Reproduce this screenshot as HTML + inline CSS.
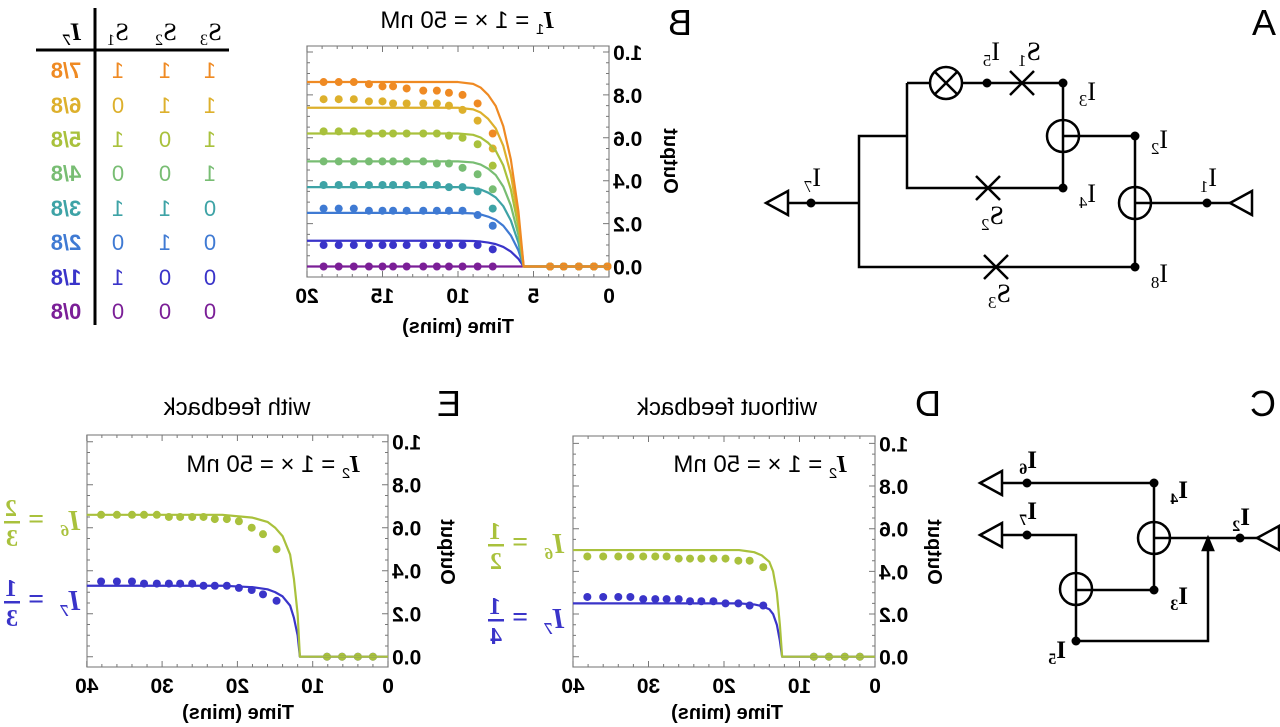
<!DOCTYPE html>
<html><head><meta charset="utf-8"><style>
html,body{margin:0;padding:0;background:#fff;}
svg{display:block;}
text{font-family:"Liberation Sans",sans-serif;}
.ser{font-family:"Liberation Serif",serif;}
</style></head><body>
<svg id="fig" width="1280" height="727" viewBox="0 0 1280 727" xmlns="http://www.w3.org/2000/svg">
<g font-size="36" fill="#000">
<text transform="translate(1276,35) scale(-1,1)">A</text>
<text transform="translate(692,35) scale(-1,1)">B</text>
<text transform="translate(1276,416) scale(-1,1)">C</text>
<text transform="translate(941,416) scale(-1,1)">D</text>
<text transform="translate(461,416) scale(-1,1)">E</text>
</g>

<g font-size="20">
<line x1="95" y1="8" x2="95" y2="325" stroke="#000" stroke-width="3"/>
<line x1="36" y1="50" x2="229" y2="50" stroke="#000" stroke-width="3"/>
<g class="ser" font-size="25" text-anchor="middle">
<text class="ser" font-weight="bold" font-style="italic" transform="translate(72,40) scale(-1,1)">I<tspan font-size="16" dy="5">7</tspan></text>
<text class="ser" transform="translate(118,40) scale(-1,1)">S<tspan font-size="16" dy="5">1</tspan></text>
<text class="ser" transform="translate(166,40) scale(-1,1)">S<tspan font-size="16" dy="5">2</tspan></text>
<text class="ser" transform="translate(211,40) scale(-1,1)">S<tspan font-size="16" dy="5">3</tspan></text>
</g>
<g id="tableRows" text-anchor="middle"></g>
</g>

<g stroke="#000" stroke-width="2.5" fill="none">
<path d="M907 83 H930 M962 83 H1063 V188 H907 V83 M907 136 H859 V267 H1135 V136 H1063 M859 203 H788 M1135 203 H1230"/>
<circle cx="946" cy="83" r="16"/>
<path d="M935 72 L957 94 M957 72 L935 94"/>
<circle cx="1063" cy="136" r="16"/>
<circle cx="1135" cy="203" r="16"/>
<path d="M1010 71 L1034 95 M1034 71 L1010 95"/>
<path d="M976 176 L1000 200 M1000 176 L976 200"/>
<path d="M984 255 L1008 279 M1008 255 L984 279"/>
<path d="M766 203 L788 191 L788 215 Z"/>
<path d="M1230 203 L1252 191 L1252 215 Z"/>
<g fill="#000" stroke="none">
<circle cx="987" cy="83" r="4.5"/><circle cx="1063" cy="83" r="4.5"/><circle cx="1135" cy="136" r="4.5"/>
<circle cx="1063" cy="188" r="4.5"/><circle cx="1135" cy="267" r="4.5"/><circle cx="811" cy="203" r="4.5"/><circle cx="1207" cy="203" r="4.5"/>
</g>
</g>
<g class="ser" font-size="26" fill="#000">
<text class="ser" transform="translate(1000,60) scale(-1,1)">I<tspan font-size="17" dy="6">5</tspan></text>
<text class="ser" transform="translate(1041,60) scale(-1,1)">S<tspan font-size="17" dy="6">1</tspan></text>
<text class="ser" transform="translate(1096,100) scale(-1,1)">I<tspan font-size="17" dy="6">3</tspan></text>
<text class="ser" transform="translate(1168,148) scale(-1,1)">I<tspan font-size="17" dy="6">2</tspan></text>
<text class="ser" transform="translate(1096,202) scale(-1,1)">I<tspan font-size="17" dy="6">4</tspan></text>
<text class="ser" transform="translate(1004,224) scale(-1,1)">S<tspan font-size="17" dy="6">2</tspan></text>
<text class="ser" transform="translate(1217,186) scale(-1,1)">I<tspan font-size="17" dy="6">1</tspan></text>
<text class="ser" transform="translate(821,186) scale(-1,1)">I<tspan font-size="17" dy="6">7</tspan></text>
<text class="ser" transform="translate(1168,282) scale(-1,1)">I<tspan font-size="17" dy="6">8</tspan></text>
<text class="ser" transform="translate(1011,302) scale(-1,1)">S<tspan font-size="17" dy="6">3</tspan></text>
</g>

<g stroke="#000" stroke-width="2.5" fill="none">
<path d="M1002 483 H1154 V590 H1076 M1002 535 H1076 V641 H1208 V545 M1154 538 H1257"/>
<path d="M1208 538 L1203 550 L1213 550 Z" fill="#000"/>
<circle cx="1154" cy="538" r="16"/>
<circle cx="1076" cy="589" r="16"/>
<path d="M980 483 L1002 471 L1002 495 Z"/>
<path d="M980 535 L1002 523 L1002 547 Z"/>
<path d="M1257 538 L1279 526 L1279 550 Z"/>
<g fill="#000" stroke="none">
<circle cx="1027" cy="483" r="4.5"/><circle cx="1154" cy="483" r="4.5"/><circle cx="1027" cy="535" r="4.5"/>
<circle cx="1154" cy="590" r="4.5"/><circle cx="1076" cy="641" r="4.5"/><circle cx="1240" cy="538" r="4.5"/>
</g>
</g>
<g class="ser" font-size="25" font-weight="bold" fill="#000">
<text class="ser" transform="translate(1037,468) scale(-1,1)">I<tspan font-size="16" dy="6">6</tspan></text>
<text class="ser" transform="translate(1037,519) scale(-1,1)">I<tspan font-size="16" dy="6">7</tspan></text>
<text class="ser" transform="translate(1188,498) scale(-1,1)">I<tspan font-size="16" dy="6">4</tspan></text>
<text class="ser" transform="translate(1250,525) scale(-1,1)">I<tspan font-size="16" dy="6">2</tspan></text>
<text class="ser" transform="translate(1188,604) scale(-1,1)">I<tspan font-size="16" dy="6">3</tspan></text>
<text class="ser" transform="translate(1066,658) scale(-1,1)">I<tspan font-size="16" dy="6">5</tspan></text>
</g>

<g font-size="24" fill="#000" text-anchor="middle">
<text transform="translate(467,28) scale(-1,1)"><tspan class="ser" font-weight="bold" font-style="italic">I</tspan><tspan font-size="15" dy="6">1</tspan><tspan dy="-6"> = 1 × = 50 nM</tspan></text>
<text transform="translate(760,472) scale(-1,1)"><tspan class="ser" font-weight="bold" font-style="italic">I</tspan><tspan font-size="15" dy="6">2</tspan><tspan dy="-6"> = 1 × = 50 nM</tspan></text>
<text transform="translate(273,472) scale(-1,1)"><tspan class="ser" font-weight="bold" font-style="italic">I</tspan><tspan font-size="15" dy="6">2</tspan><tspan dy="-6"> = 1 × = 50 nM</tspan></text>
<text transform="translate(727,415) scale(-1,1)">without feedback</text>
<text transform="translate(237,415) scale(-1,1)">with feedback</text>
</g>
<g font-size="20" font-weight="bold" fill="#000" text-anchor="middle">
<text transform="translate(458,333) scale(-1,1)">Time (mins)</text>
<text transform="translate(727,719) scale(-1,1)">Time (mins)</text>
<text transform="translate(238,719) scale(-1,1)">Time (mins)</text>
<text transform="translate(664,161) scale(-1,1) rotate(-90)">Output</text>
<text transform="translate(928,552) scale(-1,1) rotate(-90)">Output</text>
<text transform="translate(441,552) scale(-1,1) rotate(-90)">Output</text>
</g>
<g class="ser" font-weight="bold" font-size="28">
<g transform="translate(564,553) scale(-1,1)" fill="#a9c13c">
<text class="ser" x="0" y="0" font-style="italic">I<tspan font-size="17" dy="6">6</tspan></text>
<text class="ser" x="36" y="-2">=</text>
<text class="ser" x="63" y="-14" font-size="24">1</text><rect x="60" y="-9" width="16" height="2.5"/><text class="ser" x="62" y="16" font-size="24">2</text>
</g>
<g transform="translate(564,628) scale(-1,1)" fill="#3a34c9">
<text class="ser" x="0" y="0" font-style="italic">I<tspan font-size="17" dy="6">7</tspan></text>
<text class="ser" x="36" y="-2">=</text>
<text class="ser" x="63" y="-14" font-size="24">1</text><rect x="60" y="-9" width="16" height="2.5"/><text class="ser" x="62" y="16" font-size="24">4</text>
</g>
<g transform="translate(80,530) scale(-1,1)" fill="#a9c13c">
<text class="ser" x="0" y="0" font-style="italic">I<tspan font-size="17" dy="6">6</tspan></text>
<text class="ser" x="36" y="-2">=</text>
<text class="ser" x="63" y="-14" font-size="24">2</text><rect x="60" y="-9" width="16" height="2.5"/><text class="ser" x="62" y="16" font-size="24">3</text>
</g>
<g transform="translate(80,610) scale(-1,1)" fill="#3a34c9">
<text class="ser" x="0" y="0" font-style="italic">I<tspan font-size="17" dy="6">7</tspan></text>
<text class="ser" x="36" y="-2">=</text>
<text class="ser" x="63" y="-14" font-size="24">1</text><rect x="60" y="-9" width="16" height="2.5"/><text class="ser" x="62" y="16" font-size="24">3</text>
</g>
</g>
<g id="charts"></g>
</svg>
<script>
const tableFractions = ["7/8","6/8","5/8","4/8","3/8","2/8","1/8","0/8"];
const tableS1 = ["1","0","1","0","1","0","1","0"];
const tableS2 = ["1","1","0","0","1","1","0","0"];
const tableS3 = ["1","1","1","1","0","0","0","0"];
const seriesColors = ["#ef8a23","#ddb02c","#a9c13c","#78bd73","#3ea3a6","#3f7ad3","#3a34c9","#7b1f97"];

const bXTicks = [0,5,10,15,20];
const bYTicks = ["0.0","0.2","0.4","0.6","0.8","1.0"];
const bLineLevels = [0.86,0.74,0.62,0.49,0.37,0.25,0.12,0.0];
const bShapeT = [0,5.65,6,6.5,7,7.5,8,8.5,9,10,20];
const bShapeV = [0,0,0.3,0.58,0.76,0.87,0.93,0.97,0.99,1,1];
const bZeroT = [0.1,1,2,3,3.9];
const bDotT = [7.7,8.7,9.7,10.6,11.4,12.3,13.4,14.3,15,15.9,16.9,17.9,18.9];
const bDotOrange = [0.62,0.76,0.80,0.81,0.82,0.82,0.83,0.84,0.84,0.85,0.86,0.86,0.86];
const bDotYellow = [0.55,0.68,0.73,0.75,0.76,0.76,0.76,0.76,0.77,0.77,0.78,0.78,0.78];
const bDotYGreen = [0.47,0.57,0.60,0.61,0.62,0.62,0.62,0.62,0.62,0.62,0.63,0.63,0.63];
const bDotGreen = [0.36,0.43,0.46,0.48,0.48,0.49,0.49,0.49,0.49,0.49,0.49,0.49,0.49];
const bDotTeal = [0.27,0.35,0.37,0.37,0.38,0.38,0.38,0.38,0.38,0.38,0.38,0.38,0.38];
const bDotBlue = [0.19,0.24,0.26,0.26,0.26,0.26,0.26,0.26,0.26,0.26,0.27,0.27,0.27];
const bDotIndigo = [0.08,0.10,0.10,0.10,0.10,0.10,0.10,0.10,0.10,0.10,0.10,0.10,0.10];
const bDotPurple = [0,0,0,0,0,0,0,0,0,0,0,0,0];

const deXTicks = [0,10,20,30,40];
const deYTicks = ["0.0","0.2","0.4","0.6","0.8","1.0"];
const deZeroT = [2,4,6.1,8.1];
const deDotT = [14.8,16.6,18.1,19.8,21.4,23,24.5,26,27.6,29.1,30.7,32.4,34,36,38.1];
const dLineLevels = [0.5,0.25];
const dShapeT = [0,12.3,12.6,13,13.5,14,15,16,17,18,40];
const dShapeV = [0,0,0.3,0.6,0.8,0.89,0.95,0.98,0.99,1,1];
const dDotGreen = [0.42,0.45,0.45,0.46,0.46,0.46,0.46,0.46,0.47,0.47,0.47,0.47,0.47,0.47,0.47];
const dDotBlue = [0.24,0.24,0.25,0.25,0.26,0.26,0.26,0.27,0.27,0.27,0.27,0.28,0.28,0.28,0.28];
const eLineLevels = [0.66,0.33];
const eShapeT = [0,11.7,12,12.5,13,14,15,16,18,20,22,40];
const eShapeV = [0,0,0.3,0.55,0.72,0.85,0.91,0.95,0.98,0.99,1,1];
const eDotGreen = [0.50,0.57,0.60,0.63,0.64,0.64,0.65,0.65,0.65,0.65,0.66,0.66,0.66,0.66,0.66];
const eDotBlue = [0.26,0.29,0.31,0.32,0.33,0.33,0.33,0.34,0.34,0.34,0.34,0.34,0.35,0.35,0.35];

const NS = "http://www.w3.org/2000/svg";
function mk(tag, attrs, parent){const e=document.createElementNS(NS,tag);for(const k in attrs)e.setAttribute(k,attrs[k]);parent.appendChild(e);return e;}
function mtext(parent,str,x,y,anchor,size,weight){const t=mk("text",{transform:`translate(${x},${y}) scale(-1,1)`,"text-anchor":anchor,"font-size":size,"font-weight":weight||"bold"},parent);t.textContent=str;return t;}

const rowsG = document.getElementById("tableRows");
const rowY = [78,113,147,181,216,250,285,319];
for(let i=0;i<tableFractions.length;i++){
  const g=mk("g",{fill:seriesColors[i]},rowsG);
  
  
  mtext(g,tableFractions[i],66,rowY[i],"middle",22);
  mtext(g,tableS1[i],118,rowY[i],"middle",22,"normal");
  mtext(g,tableS2[i],165,rowY[i],"middle",22,"normal");
  mtext(g,tableS3[i],210,rowY[i],"middle",22,"normal");
}

const chartsG=document.getElementById("charts");
function makePanel(name,cfg){
  const g=mk("g",{},chartsG);
  
  
  const X=t=>cfg.x0 - t*cfg.xs, Y=v=>cfg.y0 - v*cfg.ys;
  const fr=mk("rect",{x:cfg.fl,y:cfg.ft,width:cfg.fr-cfg.fl,height:cfg.fb-cfg.ft,fill:"none",stroke:"#888","stroke-width":1.2},g);
  
  
  let p="";
  for(let t=0;t<=cfg.tmax+1e-9;t+=cfg.minor){const x=X(t),mj=Math.abs(t/cfg.major-Math.round(t/cfg.major))<1e-6;const L=mj?6:3;p+=`M${x} ${cfg.fb}v${-L}M${x} ${cfg.ft}v${L}`;}
  for(let v=0;v<=1.0001;v+=0.05){const y=Y(v),mj=Math.abs(v*5-Math.round(v*5))<1e-6;const L=mj?6:3;p+=`M${cfg.fr} ${y}h${-L}M${cfg.fl} ${y}h${L}`;}
  mk("path",{d:p,stroke:"#777","stroke-width":1,fill:"none"},g);
  cfg.xticks.forEach(t=>{const e=mtext(g,String(t),X(t),cfg.fb+26,"middle",21);});
  cfg.yticks.forEach(s=>{const e=mtext(g,s,cfg.fr+4,Y(parseFloat(s))+8,"end",21);});
  for(let i=cfg.series.length-1;i>=0;i--){
    const s=cfg.series[i];
    const dots=mk("g",{fill:s.color},g);
    
    
    cfg.zeroT.forEach(t=>{const c=mk("circle",{cx:X(t),cy:Y(0),r:4},dots);});
    cfg.dotT.forEach((t,j)=>{const c=mk("circle",{cx:X(t),cy:Y(s.dots[j]),r:4},dots);});
  }
  for(let i=cfg.series.length-1;i>=0;i--){
    const s=cfg.series[i];
    let d=cfg.shapeT.map((t,j)=>(j?"L":"M")+X(t).toFixed(2)+" "+Y(s.level*cfg.shapeV[j]).toFixed(2)).join("");
    const ln=mk("path",{d:d,stroke:s.color,"stroke-width":2.2,fill:"none","stroke-linejoin":"round"},g);
    
    
  }
}
const bDots=[bDotOrange,bDotYellow,bDotYGreen,bDotGreen,bDotTeal,bDotBlue,bDotIndigo,bDotPurple];
makePanel("chart-b",{x0:609,xs:15.1,y0:266.5,ys:214.5,fl:307,fr:609,ft:46,fb:277,tmax:20,minor:1,major:5,
  xticks:bXTicks,yticks:bYTicks,shapeT:bShapeT,shapeV:bShapeV,zeroT:bZeroT,dotT:bDotT,
  series:bLineLevels.map((l,i)=>({level:l,color:seriesColors[i],dots:bDots[i]}))});
makePanel("chart-d",{x0:875,xs:7.55,y0:656.7,ys:213.3,fl:573,fr:875,ft:436,fb:667,tmax:40,minor:2,major:10,
  xticks:deXTicks,yticks:deYTicks,shapeT:dShapeT,shapeV:dShapeV,zeroT:deZeroT,dotT:deDotT,
  series:[{level:dLineLevels[0],color:"#a9c13c",dots:dDotGreen},{level:dLineLevels[1],color:"#3a34c9",dots:dDotBlue}]});
makePanel("chart-e",{x0:388,xs:7.53,y0:656.7,ys:215,fl:87,fr:388,ft:435,fb:667,tmax:40,minor:2,major:10,
  xticks:deXTicks,yticks:deYTicks,shapeT:eShapeT,shapeV:eShapeV,zeroT:deZeroT,dotT:deDotT,
  series:[{level:eLineLevels[0],color:"#a9c13c",dots:eDotGreen},{level:eLineLevels[1],color:"#3a34c9",dots:eDotBlue}]});
</script>
</body></html>
